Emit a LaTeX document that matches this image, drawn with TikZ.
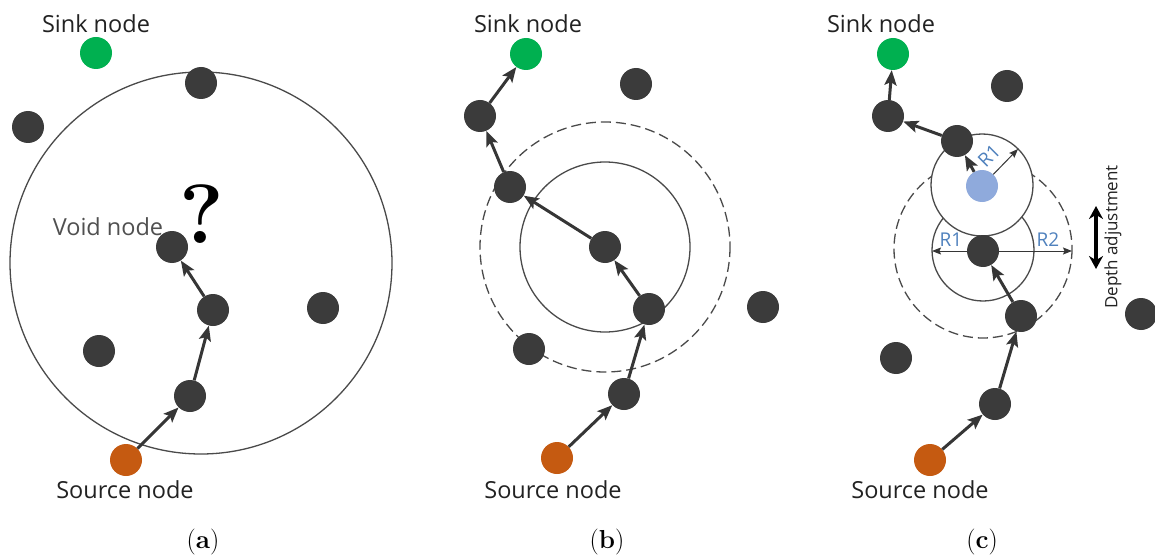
\documentclass[tikz,border=0pt]{standalone}
\usepackage{fontspec}
\newfontfamily\labelfont{Open Sans}
\usetikzlibrary{arrows.meta}

\definecolor{dotgray}{HTML}{3B3B3B}
\definecolor{arrowgray}{HTML}{363636}
\definecolor{ringgray}{HTML}{4A4A4A}
\definecolor{sinkgreen}{HTML}{00B050}
\definecolor{srcorange}{HTML}{C55A11}
\definecolor{probeblue}{HTML}{8FAADC}
\definecolor{rblue}{HTML}{4F81BD}
\definecolor{textgray}{HTML}{222222}
\definecolor{voidgray}{HTML}{505050}

\tikzset{
  dot/.style={circle, minimum size=32pt, inner sep=0pt, fill=dotgray},
  sinkdot/.style={dot, fill=sinkgreen},
  srcdot/.style={dot, fill=srcorange},
  probedot/.style={dot, fill=probeblue},
  hop/.style={draw=arrowgray, line width=3pt,
    -{Stealth[length=15pt,width=12pt,inset=3pt]}},
  radius arrow/.style={draw=arrowgray, line width=1pt,
    -{Stealth[length=9pt,width=7pt,inset=1.5pt]}},
  ring/.style={draw=ringgray, line width=1.3pt},
  dashring/.style={ring, dash pattern=on 10pt off 5pt},
  tag/.style={font=\labelfont\fontsize{23.5}{23.5}\selectfont, text=textgray, inner sep=0pt},
  voidtag/.style={tag, text=voidgray},
  rtag/.style={font=\labelfont\fontsize{19}{19}\selectfont, text=rblue, inner sep=0pt},
  sidetag/.style={font=\labelfont\fontsize{17}{17}\selectfont, text=textgray, inner sep=0pt},
  caption/.style={font=\fontsize{26}{26}\selectfont, inner sep=0pt}
}

\begin{document}
\begin{tikzpicture}[x=1pt, y=-1pt]
\useasboundingbox (0,0) rectangle (1155,556);

% ---------------- (a) ----------------
\draw[ring] (201,263) circle (191);

\node[sinkdot] (sinkA) at (96,53) {};
\node[dot] (a1) at (201,83) {};
\node[dot] (a2) at (28,127) {};
\node[dot] (voidA) at (172,247) {};
\node[dot] (a3) at (213,310) {};
\node[dot] (a4) at (323,308) {};
\node[dot] (a5) at (99,351) {};
\node[dot] (a6) at (190,396) {};
\node[srcdot] (srcA) at (126,460) {};

\draw[hop] (srcA) -- (a6);
\draw[hop] (a6) -- (a3);
\draw[hop] (a3) -- (voidA);

\node[tag] (sinkAtxt) at (96,24) {Sink node};
\node[voidtag] (voidtxt) at (108,227) {Void node};
\node[font=\fontsize{84}{84}\selectfont\bfseries, inner sep=0pt] (qmark) at (202,214) {?};
\node[tag] (srcAtxt) at (125,490) {Source node};
\node[caption] (capA) at (203,542) {(\textbf{a})};

% ---------------- (b) ----------------
\draw[ring] (605,247) circle (85);
\draw[dashring] (605,247) circle (125);

\node[sinkdot] (sinkB) at (526,54) {};
\node[dot] (b1) at (636,84) {};
\node[dot] (b2) at (480,116) {};
\node[dot] (b3) at (510,187) {};
\node[dot] (b4) at (605,247) {};
\node[dot] (b5) at (649,309) {};
\node[dot] (b6) at (763,307) {};
\node[dot] (b7) at (529,349) {};
\node[dot] (b8) at (624,394) {};
\node[srcdot] (srcB) at (557,458) {};

\draw[hop] (srcB) -- (b8);
\draw[hop] (b8) -- (b5);
\draw[hop] (b5) -- (b4);
\draw[hop] (b4) -- (b3);
\draw[hop] (b3) -- (b2);
\draw[hop] (b2) -- (sinkB);

\node[tag] (sinkBtxt) at (528,24) {Sink node};
\node[tag] (srcBtxt) at (553,490) {Source node};
\node[caption] (capB) at (607,542) {(\textbf{b})};

% ---------------- (c) ----------------
% search rings of the current node, then the ring of the adjusted position on top
\draw[dashring] (983,249) circle (89);
\draw[ring] (983,250) circle (51);
\draw[ring, fill=white] (982,185) circle (51);

\coordinate (r1tip) at (1018,149);
\coordinate (r1left) at (932,251);
\coordinate (r2right) at (1072,251);
\coordinate (depthtop) at (1096,206);
\coordinate (depthbot) at (1096,269);

\node[sinkdot] (sinkC) at (893,54) {};
\node[dot] (c1) at (1007,86) {};
\node[dot] (c2) at (888,116) {};
\node[dot] (c3) at (957,141) {};
\node[probedot] (probe) at (982,186) {};
\node[dot] (c4) at (983,251) {};
\node[dot] (c5) at (1021,316) {};
\node[dot] (c6) at (1141,314) {};
\node[dot] (c7) at (896,358) {};
\node[dot] (c8) at (995,404) {};
\node[srcdot] (srcC) at (930,460) {};

\draw[radius arrow] (probe) -- (r1tip);
\draw[radius arrow] (c4) -- (r1left);
\draw[radius arrow] (c4) -- (r2right);

\draw[hop] (srcC) -- (c8);
\draw[hop] (c8) -- (c5);
\draw[hop] (c5) -- (c4);
\draw[hop] (probe) -- (c3);
\draw[hop] (c3) -- (c2);
\draw[hop] (c2) -- (sinkC);

\draw[line width=4pt, {Stealth[length=13pt,width=14pt]}-{Stealth[length=13pt,width=14pt]}]
  (depthtop) -- (depthbot);

\node[rtag, rotate=45] (r1up) at (989,156) {R1};
\node[rtag] (r1low) at (951,240) {R1};
\node[rtag] (r2low) at (1048,240) {R2};
\node[sidetag, rotate=90] (depthtxt) at (1113,237) {Depth adjustment};

\node[tag] (sinkCtxt) at (881,24) {Sink node};
\node[tag] (srcCtxt) at (920,490) {Source node};
\node[caption] (capC) at (982,542) {(\textbf{c})};
\end{tikzpicture}
\end{document}
